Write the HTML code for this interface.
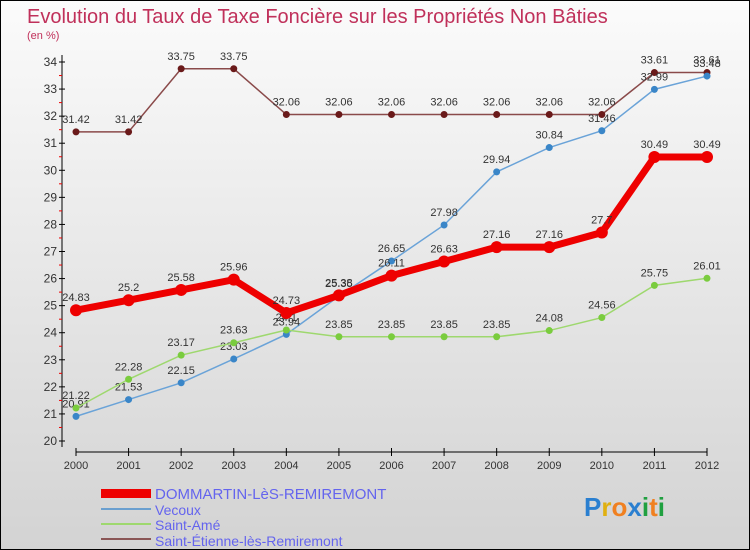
<!DOCTYPE html>
<html><head><meta charset="utf-8"><style>
body{margin:0}
#c{width:750px;height:550px;position:relative;overflow:hidden;background:linear-gradient(#fbfbfb,#d3d3d3);font-family:"Liberation Sans",sans-serif;box-sizing:border-box;border:1px solid #000}
</style></head><body>
<div id="c">
<svg id="s" width="750" height="550" style="position:absolute;left:0;top:0">
<text x="26" y="22" font-size="20" fill="#c0305a">Evolution du Taux de Taxe Foncière sur les Propriétés Non Bâties</text>
<text x="26" y="38" font-size="11" fill="#c0305a">(en %)</text>
<g id="axes"></g><g id="series"></g>
<g>
<rect x="100" y="488" width="50" height="9" fill="#e00"/>
<text x="154" y="498" font-size="15" fill="#6464ee">DOMMARTIN-LèS-REMIREMONT</text>
<rect x="100" y="507" width="50" height="2" fill="#6a9fcf"/>
<text x="154" y="514" font-size="14" fill="#6464ee">Vecoux</text>
<rect x="100" y="522" width="50" height="2" fill="#9ed86e"/>
<text x="154" y="529" font-size="14" fill="#6464ee">Saint-Amé</text>
<rect x="100" y="537" width="50" height="2" fill="#8a5656"/>
<text x="154" y="545" font-size="14" fill="#6464ee">Saint-Étienne-lès-Remiremont</text>
</g>
<text x="583" y="515" font-size="26" font-weight="bold"><tspan fill="#2a7fd0">P</tspan><tspan fill="#e0b010">r</tspan><tspan fill="#f08020">o</tspan><tspan fill="#2a7fd0">x</tspan><tspan fill="#20a040">i</tspan><tspan fill="#f08020">t</tspan><tspan fill="#20a040">i</tspan></text>
</svg>
</div>
<script>
const years=[2000,2001,2002,2003,2004,2005,2006,2007,2008,2009,2010,2011,2012];
const yTicks=[20,21,22,23,24,25,26,27,28,29,30,31,32,33,34];
const dommartin=[24.83,25.2,25.58,25.96,24.73,25.38,26.11,26.63,27.16,27.16,27.7,30.49,30.49];
const vecoux=[20.91,21.53,22.15,23.03,23.94,25.35,26.65,27.98,29.94,30.84,31.46,32.99,33.48];
const saintAme=[21.22,22.28,23.17,23.63,24.1,23.85,23.85,23.85,23.85,24.08,24.56,25.75,26.01];
const saintEtienne=[31.42,31.42,33.75,33.75,32.06,32.06,32.06,32.06,32.06,32.06,32.06,33.61,33.61];
const NS='http://www.w3.org/2000/svg';
const X=i=>75+i*(631/12), Y=v=>440-(v-20)*(379/14);
function mk(p,t,a){const e=document.createElementNS(NS,t);for(const k in a)e.setAttribute(k,a[k]);p.appendChild(e);return e;}
const ax=document.getElementById('axes');
const ya=mk(ax,'line',{x1:61,y1:54,x2:61,y2:446,stroke:'#000'});


yTicks.forEach(v=>{const y=Y(v);mk(ax,'line',{x1:58,y1:y,x2:64,y2:y,stroke:'#000'});
if(v<34)mk(ax,'line',{x1:58,y1:Y(v+0.5),x2:61,y2:Y(v+0.5),stroke:'#e00'});
const t=mk(ax,'text',{x:56,y:y+4,'font-size':12,fill:'#333','text-anchor':'end'});t.textContent=v;

});
const xa=mk(ax,'line',{x1:75,y1:451,x2:706,y2:451,stroke:'#000'});


years.forEach((yr,i)=>{mk(ax,'line',{x1:X(i),y1:447,x2:X(i),y2:455,stroke:'#000'});
const t=mk(ax,'text',{x:X(i),y:468,'font-size':11,fill:'#333','text-anchor':'middle'});t.textContent=yr;

});
const sg=document.getElementById('series');
function series(vals,color,w,r,dot,name,stroke){
const g=mk(sg,'g',{});


mk(g,'polyline',{points:vals.map((v,i)=>X(i)+','+Y(v)).join(' '),fill:'none',stroke:color,'stroke-width':w});
vals.forEach((v,i)=>{const c=mk(g,'circle',{cx:X(i),cy:Y(v),r:r,fill:dot,stroke:stroke||'none'});


const t=mk(g,'text',{x:X(i),y:Y(v)-9,'font-size':11,fill:'#333','text-anchor':'middle'});t.textContent=v;});}
series(saintEtienne,'#8a4a4a',1.5,3.5,'#6a1a1a','series-saint-etienne');
series(vecoux,'#6aa3d8',1.5,3.5,'#3a86c8','series-vecoux');
series(saintAme,'#9ed86e',1.5,3.5,'#7acc3e','series-saint-ame');
series(dommartin,'#ee0000',7,6,'#ee0000','series-dommartin');
</script>
</body></html>
